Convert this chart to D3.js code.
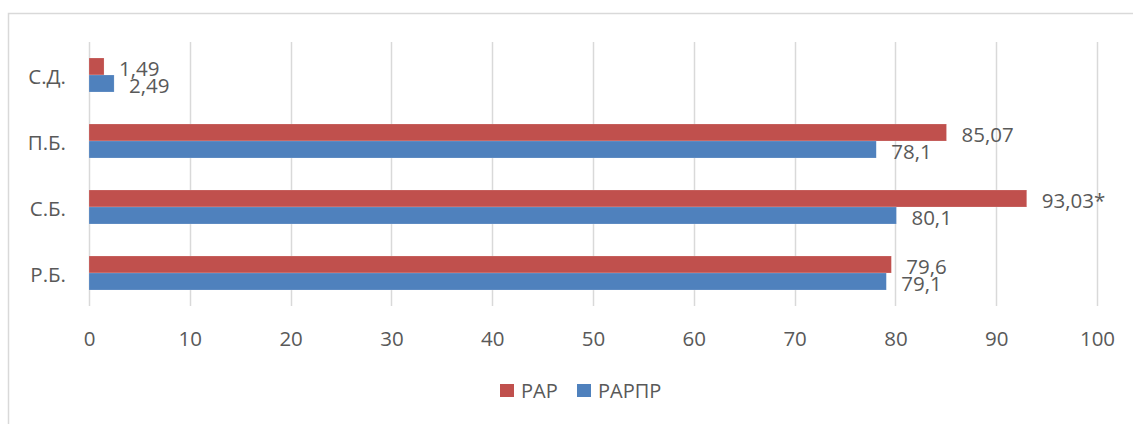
<!DOCTYPE html>
<html><head><meta charset="utf-8">
<script src="https://cdn.jsdelivr.net/npm/d3@7"></script>
<style>body{margin:0;background:#fff}svg{display:block}text{font-family:"Open Sans",sans-serif;fill:#595959}</style>
</head><body>
<script>
const categories = ["С.Д.", "П.Б.", "С.Б.", "Р.Б."];
const seriesNames = ["РАР", "РАРПР"];
const seriesColors = ["#C0504D", "#4F81BD"];
const valuesRAR = [1.49, 85.07, 93.03, 79.6];
const valuesRARPR = [2.49, 78.1, 80.1, 79.1];
const labelsRAR = ["1,49", "85,07", "93,03*", "79,6"];
const labelsRARPR = ["2,49", "78,1", "80,1", "79,1"];
const xTicks = [0,10,20,30,40,50,60,70,80,90,100];

const W = 1133, H = 424;
const FONT = 20.5;
const svg = d3.select("body").append("svg").attr("width", W).attr("height", H);
svg.append("rect").attr("x", 8.5).attr("y", 13.5).attr("width", W).attr("height", H)
  .attr("fill", "none").attr("stroke", "#d9d9d9").attr("stroke-width", 1.5);

const x = d3.scaleLinear().domain([0, 100]).range([89, 1097]);
const y = d3.scaleBand().domain(categories).range([42, 306]).paddingInner(32/66).paddingOuter(16/66);
const ySub = d3.scaleBand().domain(seriesNames).range([0, y.bandwidth()]);

// gridlines
svg.append("g").selectAll("line").data(xTicks).join("line")
  .attr("x1", d => Math.round(x(d)) + 0.5).attr("x2", d => Math.round(x(d)) + 0.5)
  .attr("y1", 42).attr("y2", 306).attr("stroke", "#d9d9d9").attr("stroke-width", 1.5);

// x axis labels
const xAxis = d3.axisBottom(x).tickValues(xTicks).tickSize(0).tickPadding(0).tickFormat(d => String(d));
const gx = svg.append("g").attr("transform", "translate(0,346)").call(xAxis);
gx.select(".domain").remove();
gx.selectAll("text").attr("font-size", FONT).attr("fill", "#595959").attr("font-family", "Open Sans").attr("dy", "0em");

// y axis labels
const yAxis = d3.axisLeft(y).tickSize(0).tickPadding(0);
const gy = svg.append("g").attr("transform", "translate(66,2)").call(yAxis);
gy.select(".domain").remove();
gy.selectAll("text").attr("font-size", FONT).attr("fill", "#595959").attr("font-family", "Open Sans");

const series = [
  {name: seriesNames[0], color: seriesColors[0], values: valuesRAR, labels: labelsRAR},
  {name: seriesNames[1], color: seriesColors[1], values: valuesRARPR, labels: labelsRARPR}
];

series.forEach(s => {
  const g = svg.append("g");
  g.selectAll("rect").data(categories).join("rect")
    .attr("x", x(0)).attr("y", (c) => y(c) + ySub(s.name))
    .attr("width", (c, i) => x(s.values[i]) - x(0))
    .attr("height", ySub.bandwidth())
    .attr("fill", s.color).attr("stroke", "#fff").attr("stroke-opacity", 0.35).attr("stroke-width", 0.5);
  g.selectAll("text").data(categories).join("text")
    .attr("x", (c, i) => x(s.values[i]) + 15)
    .attr("y", (c) => y(c) + ySub(s.name) + ySub.bandwidth() / 2 + 2)
    .attr("dy", "0.35em").attr("font-size", FONT)
    .text((c, i) => s.labels[i]);
});

// legend
const legendX = [500, 577];
const lg = svg.append("g");
series.forEach((s, i) => {
  lg.append("rect").attr("x", legendX[i]).attr("y", 384).attr("width", 14).attr("height", 13).attr("fill", s.color);
  lg.append("text").attr("x", legendX[i] + 21).attr("y", 398).attr("font-size", 20).text(s.name);
});
</script>
</body></html>
